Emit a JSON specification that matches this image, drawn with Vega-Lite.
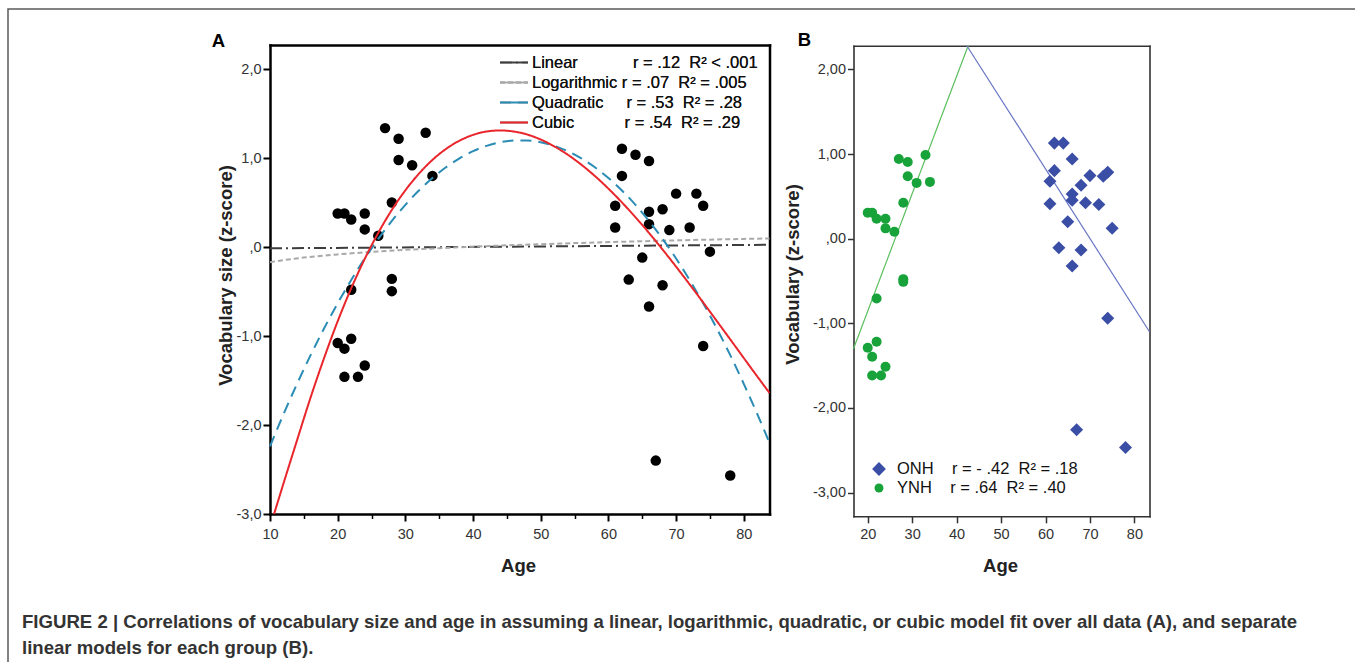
{
  "$schema": "https://vega.github.io/schema/vega-lite/v6.json",
  "width": 1347,
  "height": 653,
  "autosize": {"type": "none"},
  "padding": {"left": 8, "top": 9, "right": 0, "bottom": 0},
  "background": "#ffffff",
  "view": {"fill": "#ffffff", "stroke": "#5a5a5a", "strokeWidth": 1.5, "strokeDash": [1347, 2000, 653]},
  "title": {
    "text": ["FIGURE 2 | Correlations of vocabulary size and age in assuming a linear, logarithmic, quadratic, or cubic model fit over all data (A), and separate", "linear models for each group (B)."],
    "orient": "bottom", "anchor": "start", "frame": "group", "offset": -49, "dx": 14,
    "baseline": "top", "lineHeight": 26, "font": "Liberation Sans", "fontSize": 18.6, "fontWeight": "bold", "color": "#333333"
  },
  "config": {
    "font": "Liberation Sans",
    "axis": {"grid": false, "labelFlush": false, "labelOverlap": false, "minExtent": 0, "maxExtent": 500, "titlePadding": 0, "labelFont": "Liberation Sans", "titleFont": "Liberation Sans", "labelBound": false},
    "legend": {"padding": 0, "labelFont": "Liberation Sans"}
  },
  "datasets": {
    "pointsA": [
      {"group": "YNH", "age": 27, "score": 1.336},
      {"group": "YNH", "age": 29, "score": 1.216},
      {"group": "YNH", "age": 33, "score": 1.284},
      {"group": "YNH", "age": 29, "score": 0.978},
      {"group": "YNH", "age": 31, "score": 0.918},
      {"group": "YNH", "age": 34, "score": 0.799},
      {"group": "YNH", "age": 28, "score": 0.5},
      {"group": "YNH", "age": 20, "score": 0.377},
      {"group": "YNH", "age": 21, "score": 0.377},
      {"group": "YNH", "age": 22, "score": 0.31},
      {"group": "YNH", "age": 24, "score": 0.377},
      {"group": "YNH", "age": 24, "score": 0.198},
      {"group": "YNH", "age": 26, "score": 0.127},
      {"group": "YNH", "age": 28, "score": -0.358},
      {"group": "YNH", "age": 28, "score": -0.496},
      {"group": "YNH", "age": 22, "score": -0.481},
      {"group": "YNH", "age": 20, "score": -1.078},
      {"group": "YNH", "age": 21, "score": -1.142},
      {"group": "YNH", "age": 22, "score": -1.03},
      {"group": "YNH", "age": 21, "score": -1.459},
      {"group": "YNH", "age": 23, "score": -1.459},
      {"group": "YNH", "age": 24, "score": -1.332},
      {"group": "ONH", "age": 62, "score": 1.104},
      {"group": "ONH", "age": 64, "score": 1.037},
      {"group": "ONH", "age": 66, "score": 0.966},
      {"group": "ONH", "age": 62, "score": 0.799},
      {"group": "ONH", "age": 61, "score": 0.463},
      {"group": "ONH", "age": 61, "score": 0.22},
      {"group": "ONH", "age": 66, "score": 0.396},
      {"group": "ONH", "age": 66, "score": 0.257},
      {"group": "ONH", "age": 68, "score": 0.425},
      {"group": "ONH", "age": 69, "score": 0.19},
      {"group": "ONH", "age": 70, "score": 0.6},
      {"group": "ONH", "age": 73, "score": 0.6},
      {"group": "ONH", "age": 72, "score": 0.22},
      {"group": "ONH", "age": 74, "score": 0.463},
      {"group": "ONH", "age": 75, "score": -0.052},
      {"group": "ONH", "age": 65, "score": -0.119},
      {"group": "ONH", "age": 63, "score": -0.366},
      {"group": "ONH", "age": 68, "score": -0.429},
      {"group": "ONH", "age": 66, "score": -0.668},
      {"group": "ONH", "age": 74, "score": -1.112},
      {"group": "ONH", "age": 67, "score": -2.4},
      {"group": "ONH", "age": 78, "score": -2.567}
    ],
    "curvesA": [
      {"model": "Linear", "age": 10, "score": -0.015},
      {"model": "Linear", "age": 83.8, "score": 0.025},
      {"model": "Logarithmic", "age": 10, "score": -0.17},
      {"model": "Logarithmic", "age": 12, "score": -0.147},
      {"model": "Logarithmic", "age": 15, "score": -0.119},
      {"model": "Logarithmic", "age": 20, "score": -0.083},
      {"model": "Logarithmic", "age": 25, "score": -0.055},
      {"model": "Logarithmic", "age": 30, "score": -0.032},
      {"model": "Logarithmic", "age": 35, "score": -0.013},
      {"model": "Logarithmic", "age": 40, "score": 0.004},
      {"model": "Logarithmic", "age": 45, "score": 0.019},
      {"model": "Logarithmic", "age": 50, "score": 0.032},
      {"model": "Logarithmic", "age": 55, "score": 0.044},
      {"model": "Logarithmic", "age": 60, "score": 0.055},
      {"model": "Logarithmic", "age": 65, "score": 0.065},
      {"model": "Logarithmic", "age": 70, "score": 0.075},
      {"model": "Logarithmic", "age": 75, "score": 0.083},
      {"model": "Logarithmic", "age": 80, "score": 0.091},
      {"model": "Logarithmic", "age": 83.8, "score": 0.097},
      {"model": "Quadratic", "age": 10, "score": -2.24},
      {"model": "Quadratic", "age": 12, "score": -1.878},
      {"model": "Quadratic", "age": 14, "score": -1.537},
      {"model": "Quadratic", "age": 16, "score": -1.215},
      {"model": "Quadratic", "age": 18, "score": -0.913},
      {"model": "Quadratic", "age": 20, "score": -0.632},
      {"model": "Quadratic", "age": 22, "score": -0.371},
      {"model": "Quadratic", "age": 24, "score": -0.129},
      {"model": "Quadratic", "age": 26, "score": 0.092},
      {"model": "Quadratic", "age": 28, "score": 0.293},
      {"model": "Quadratic", "age": 30, "score": 0.474},
      {"model": "Quadratic", "age": 32, "score": 0.635},
      {"model": "Quadratic", "age": 34, "score": 0.775},
      {"model": "Quadratic", "age": 36, "score": 0.896},
      {"model": "Quadratic", "age": 38, "score": 0.996},
      {"model": "Quadratic", "age": 40, "score": 1.077},
      {"model": "Quadratic", "age": 42, "score": 1.137},
      {"model": "Quadratic", "age": 44, "score": 1.177},
      {"model": "Quadratic", "age": 46, "score": 1.197},
      {"model": "Quadratic", "age": 48, "score": 1.197},
      {"model": "Quadratic", "age": 50, "score": 1.177},
      {"model": "Quadratic", "age": 52, "score": 1.137},
      {"model": "Quadratic", "age": 54, "score": 1.077},
      {"model": "Quadratic", "age": 56, "score": 0.996},
      {"model": "Quadratic", "age": 58, "score": 0.896},
      {"model": "Quadratic", "age": 60, "score": 0.775},
      {"model": "Quadratic", "age": 62, "score": 0.635},
      {"model": "Quadratic", "age": 64, "score": 0.474},
      {"model": "Quadratic", "age": 66, "score": 0.293},
      {"model": "Quadratic", "age": 68, "score": 0.092},
      {"model": "Quadratic", "age": 70, "score": -0.129},
      {"model": "Quadratic", "age": 72, "score": -0.371},
      {"model": "Quadratic", "age": 74, "score": -0.632},
      {"model": "Quadratic", "age": 76, "score": -0.913},
      {"model": "Quadratic", "age": 78, "score": -1.215},
      {"model": "Quadratic", "age": 80, "score": -1.537},
      {"model": "Quadratic", "age": 82, "score": -1.878},
      {"model": "Quadratic", "age": 83.8, "score": -2.2},
      {"model": "Cubic", "age": 10.6, "score": -3.0},
      {"model": "Cubic", "age": 12, "score": -2.655},
      {"model": "Cubic", "age": 14, "score": -2.17},
      {"model": "Cubic", "age": 16, "score": -1.69},
      {"model": "Cubic", "age": 18, "score": -1.246},
      {"model": "Cubic", "age": 20, "score": -0.834},
      {"model": "Cubic", "age": 22, "score": -0.464},
      {"model": "Cubic", "age": 24, "score": -0.133},
      {"model": "Cubic", "age": 26, "score": 0.16},
      {"model": "Cubic", "age": 28, "score": 0.417},
      {"model": "Cubic", "age": 30, "score": 0.637},
      {"model": "Cubic", "age": 32, "score": 0.824},
      {"model": "Cubic", "age": 34, "score": 0.979},
      {"model": "Cubic", "age": 36, "score": 1.102},
      {"model": "Cubic", "age": 38, "score": 1.195},
      {"model": "Cubic", "age": 40, "score": 1.26},
      {"model": "Cubic", "age": 42, "score": 1.298},
      {"model": "Cubic", "age": 44, "score": 1.31},
      {"model": "Cubic", "age": 46, "score": 1.298},
      {"model": "Cubic", "age": 48, "score": 1.264},
      {"model": "Cubic", "age": 50, "score": 1.208},
      {"model": "Cubic", "age": 52, "score": 1.131},
      {"model": "Cubic", "age": 54, "score": 1.037},
      {"model": "Cubic", "age": 56, "score": 0.925},
      {"model": "Cubic", "age": 58, "score": 0.798},
      {"model": "Cubic", "age": 60, "score": 0.656},
      {"model": "Cubic", "age": 62, "score": 0.501},
      {"model": "Cubic", "age": 64, "score": 0.334},
      {"model": "Cubic", "age": 66, "score": 0.158},
      {"model": "Cubic", "age": 68, "score": -0.028},
      {"model": "Cubic", "age": 70, "score": -0.221},
      {"model": "Cubic", "age": 72, "score": -0.42},
      {"model": "Cubic", "age": 74, "score": -0.623},
      {"model": "Cubic", "age": 76, "score": -0.83},
      {"model": "Cubic", "age": 78, "score": -1.038},
      {"model": "Cubic", "age": 80, "score": -1.247},
      {"model": "Cubic", "age": 82, "score": -1.455},
      {"model": "Cubic", "age": 83.8, "score": -1.64}
    ],
    "pointsB": [
      {"group": "ONH", "age": 62, "score": 1.129},
      {"group": "ONH", "age": 64, "score": 1.129},
      {"group": "ONH", "age": 66, "score": 0.941},
      {"group": "ONH", "age": 62, "score": 0.804},
      {"group": "ONH", "age": 61, "score": 0.678},
      {"group": "ONH", "age": 68, "score": 0.631},
      {"group": "ONH", "age": 70, "score": 0.745},
      {"group": "ONH", "age": 73, "score": 0.737},
      {"group": "ONH", "age": 74, "score": 0.784},
      {"group": "ONH", "age": 66, "score": 0.529},
      {"group": "ONH", "age": 66, "score": 0.455},
      {"group": "ONH", "age": 61, "score": 0.412},
      {"group": "ONH", "age": 69, "score": 0.424},
      {"group": "ONH", "age": 72, "score": 0.404},
      {"group": "ONH", "age": 65, "score": 0.2},
      {"group": "ONH", "age": 75, "score": 0.122},
      {"group": "ONH", "age": 63, "score": -0.106},
      {"group": "ONH", "age": 68, "score": -0.133},
      {"group": "ONH", "age": 66, "score": -0.322},
      {"group": "ONH", "age": 74, "score": -0.94},
      {"group": "ONH", "age": 67, "score": -2.257},
      {"group": "ONH", "age": 78, "score": -2.466},
      {"group": "YNH", "age": 20, "score": 0.306},
      {"group": "YNH", "age": 21, "score": 0.306},
      {"group": "YNH", "age": 22, "score": 0.235},
      {"group": "YNH", "age": 24, "score": 0.235},
      {"group": "YNH", "age": 24, "score": 0.122},
      {"group": "YNH", "age": 26, "score": 0.082},
      {"group": "YNH", "age": 28, "score": 0.424},
      {"group": "YNH", "age": 29, "score": 0.737},
      {"group": "YNH", "age": 27, "score": 0.941},
      {"group": "YNH", "age": 29, "score": 0.906},
      {"group": "YNH", "age": 31, "score": 0.659},
      {"group": "YNH", "age": 33, "score": 0.988},
      {"group": "YNH", "age": 34, "score": 0.671},
      {"group": "YNH", "age": 28, "score": -0.478},
      {"group": "YNH", "age": 28, "score": -0.51},
      {"group": "YNH", "age": 22, "score": -0.706},
      {"group": "YNH", "age": 20, "score": -1.289},
      {"group": "YNH", "age": 22, "score": -1.217},
      {"group": "YNH", "age": 21, "score": -1.395},
      {"group": "YNH", "age": 21, "score": -1.617},
      {"group": "YNH", "age": 23, "score": -1.617},
      {"group": "YNH", "age": 24, "score": -1.514}
    ],
    "linesB": [
      {"group": "YNH", "age": 16.8, "score": -1.3},
      {"group": "YNH", "age": 42.6, "score": 2.28},
      {"group": "ONH", "age": 42.3, "score": 2.28},
      {"group": "ONH", "age": 83.4, "score": -1.1}
    ]
  },
  "layer": [
    {
      "layer": [
        {
          "data": {"name": "pointsA"},
          "transform": [{"filter": "datum.group == 'YNH'"}],
          "mark": {"type": "point", "filled": true, "shape": "circle", "size": 110, "color": "#000000", "opacity": 1},
          "encoding": {
            "x": {"field": "age", "type": "quantitative",
              "scale": {"domain": [10, 83.8], "range": [262, 761.5], "nice": false, "zero": false},
              "axis": {"orient": "bottom", "offset": -148, "values": [10, 20, 30, 40, 50, 60, 70, 80],
                "domain": true, "domainColor": "#000000", "domainWidth": 2.5, "domainCap": "square",
                "ticks": true, "tickColor": "#000000", "tickWidth": 2, "tickSize": 7,
                "labels": true, "labelFontSize": 14.5, "labelColor": "#333333", "labelPadding": 6,
                "title": "Age", "titleX": 510, "titleY": 51, "titleAngle": 0, "titleBaseline": "middle", "titleAlign": "center",
                "titleFontSize": 18.5, "titleFontWeight": "bold", "titleColor": "#222222"}},
            "y": {"field": "score", "type": "quantitative",
              "scale": {"domain": [-3, 2.27], "range": [505, 36], "nice": false, "zero": false},
              "axis": {"orient": "left", "offset": -262, "values": [-3, -2, -1, 0, 1, 2],
                "domain": true, "domainColor": "#000000", "domainWidth": 2.5, "domainCap": "square",
                "ticks": true, "tickColor": "#000000", "tickWidth": 2, "tickSize": 7,
                "labels": true, "labelFontSize": 14.5, "labelColor": "#333333", "labelPadding": 2,
                "labelExpr": "datum.value == 0 ? ',0' : (datum.value < 0 ? '-' : '') + abs(datum.value) + ',0'",
                "title": "Vocabulary size (z-score)", "titleX": -45, "titleY": 266, "titleAngle": -90, "titleBaseline": "middle", "titleAlign": "center",
                "titleFontSize": 18.5, "titleFontWeight": "bold", "titleColor": "#222222"}}
          }
        },
        {
          "data": {"name": "pointsA"},
          "transform": [{"filter": "datum.group == 'ONH'"}],
          "mark": {"type": "point", "filled": true, "shape": "circle", "size": 110, "color": "#000000", "opacity": 1},
          "encoding": {
            "x": {"field": "age", "type": "quantitative",
              "scale": {"domain": [10, 83.8], "range": [262, 761.5], "nice": false, "zero": false},
              "axis": {"orient": "bottom", "offset": -148, "values": [15, 25, 35, 45, 55, 65, 75],
                "domain": false, "ticks": true, "tickColor": "#000000", "tickWidth": 1.5, "tickSize": 4.5,
                "labels": false, "title": null}},
            "y": {"field": "score", "type": "quantitative",
              "scale": {"domain": [-3, 2.27], "range": [505, 36], "nice": false, "zero": false},
              "axis": null}
          }
        },
        {
          "data": {"name": "curvesA"},
          "mark": {"type": "line", "strokeWidth": 2, "interpolate": "monotone"},
          "encoding": {
            "x": {"field": "age", "type": "quantitative",
              "scale": {"domain": [10, 83.8], "range": [262, 761.5], "nice": false, "zero": false},
              "axis": {"orient": "top", "offset": -36, "domain": true, "domainColor": "#000000", "domainWidth": 2.5, "domainCap": "square",
                "ticks": false, "labels": false,
                "title": "A", "titleX": 210, "titleY": -5, "titleAngle": 0, "titleBaseline": "middle", "titleAlign": "center",
                "titleFontSize": 18.5, "titleFontWeight": "bold", "titleColor": "#000000"}},
            "y": {"field": "score", "type": "quantitative",
              "scale": {"domain": [-3, 2.27], "range": [505, 36], "nice": false, "zero": false},
              "axis": {"orient": "right", "offset": -585.5, "domain": true, "domainColor": "#000000", "domainWidth": 2.5, "domainCap": "square",
                "ticks": false, "labels": false, "title": null}},
            "color": {"field": "model", "type": "nominal",
              "scale": {"domain": ["Linear", "Logarithmic", "Quadratic", "Cubic"], "range": ["#3d3d3d", "#a9a9a9", "#2a8cb4", "#e8262b"]},
              "legend": {"title": null, "orient": "none", "legendX": 497.75, "legendY": 45.25, "padding": 0,
                "symbolType": "M-2.8,0H2.8", "symbolSize": 100, "symbolStrokeWidth": 2,
                "labelFontSize": 16.5, "labelColor": "#111111", "labelOffset": 9.75, "rowPadding": 3, "labelLimit": 600,
                "labelExpr": "datum.label == 'Linear' ? 'Linear\u00a0\u00a0\u00a0\u00a0\u00a0\u00a0\u00a0\u00a0\u00a0\u00a0\u00a0\u00a0r = .12\u00a0\u00a0R² < .001' : datum.label == 'Logarithmic' ? 'Logarithmic\u00a0r = .07\u00a0\u00a0R² = .005' : datum.label == 'Quadratic' ? 'Quadratic\u00a0\u00a0\u00a0\u00a0\u00a0r = .53\u00a0\u00a0R² = .28' : 'Cubic\u00a0\u00a0\u00a0\u00a0\u00a0\u00a0\u00a0\u00a0\u00a0\u00a0\u00a0r = .54\u00a0\u00a0R² = .29'"}},
            "strokeDash": {"field": "model", "type": "nominal",
              "scale": {"domain": ["Linear", "Logarithmic", "Quadratic", "Cubic"], "range": [[12, 4, 2, 4], [5, 3], [11, 7], [1, 0]]},
              "legend": {"title": null, "orient": "none", "legendX": 497.75, "legendY": 45.25, "padding": 0,
                "symbolType": "M-2.8,0H2.8", "symbolSize": 100, "symbolStrokeWidth": 2,
                "labelFontSize": 16.5, "labelColor": "#111111", "labelOffset": 9.75, "rowPadding": 3, "labelLimit": 600,
                "labelExpr": "datum.label == 'Linear' ? 'Linear\u00a0\u00a0\u00a0\u00a0\u00a0\u00a0\u00a0\u00a0\u00a0\u00a0\u00a0\u00a0r = .12\u00a0\u00a0R² < .001' : datum.label == 'Logarithmic' ? 'Logarithmic\u00a0r = .07\u00a0\u00a0R² = .005' : datum.label == 'Quadratic' ? 'Quadratic\u00a0\u00a0\u00a0\u00a0\u00a0r = .53\u00a0\u00a0R² = .28' : 'Cubic\u00a0\u00a0\u00a0\u00a0\u00a0\u00a0\u00a0\u00a0\u00a0\u00a0\u00a0r = .54\u00a0\u00a0R² = .29'"}}
          }
        }
      ],
      "resolve": {"axis": {"x": "independent", "y": "independent"}}
    },
    {
      "layer": [
        {
          "data": {"name": "linesB"},
          "mark": {"type": "line", "strokeWidth": 1.2},
          "encoding": {
            "x": {"field": "age", "type": "quantitative",
              "scale": {"domain": [16.8, 83.4], "range": [845.5, 1141.5], "nice": false, "zero": false},
              "axis": null},
            "y": {"field": "score", "type": "quantitative",
              "scale": {"domain": [-3.28, 2.28], "range": [507.3, 36.7], "nice": false, "zero": false},
              "axis": null},
            "stroke": {"field": "group", "type": "nominal",
              "scale": {"domain": ["ONH", "YNH"], "range": ["#6876c4", "#5bbf5e"]}, "legend": null}
          }
        },
        {
          "data": {"name": "pointsB"},
          "transform": [{"filter": "datum.group == 'ONH'"}],
          "mark": {"type": "point", "filled": true, "shape": "diamond", "size": 170, "opacity": 1},
          "encoding": {
            "x": {"field": "age", "type": "quantitative",
              "scale": {"domain": [16.8, 83.4], "range": [845.5, 1141.5], "nice": false, "zero": false},
              "axis": {"orient": "bottom", "offset": -145.7, "values": [20, 30, 40, 50, 60, 70, 80],
                "domain": true, "domainColor": "#333333", "domainWidth": 1.6, "domainCap": "square",
                "ticks": true, "tickColor": "#333333", "tickWidth": 1.5, "tickSize": 6.5,
                "labels": true, "labelFontSize": 14.5, "labelColor": "#333333", "labelPadding": 5,
                "title": "Age", "titleX": 992, "titleY": 48.7, "titleAngle": 0, "titleBaseline": "middle", "titleAlign": "center",
                "titleFontSize": 18.5, "titleFontWeight": "bold", "titleColor": "#222222"}},
            "y": {"field": "score", "type": "quantitative",
              "scale": {"domain": [-3.28, 2.28], "range": [507.3, 36.7], "nice": false, "zero": false},
              "axis": {"orient": "left", "offset": -845.5, "values": [-3, -2, -1, 0, 1, 2],
                "domain": true, "domainColor": "#333333", "domainWidth": 1.6, "domainCap": "square",
                "ticks": true, "tickColor": "#333333", "tickWidth": 1.5, "tickSize": 6,
                "labels": true, "labelFontSize": 14.5, "labelColor": "#333333", "labelPadding": 2,
                "labelExpr": "datum.value == 0 ? ',00' : (datum.value < 0 ? '-' : '') + abs(datum.value) + ',00'",
                "title": "Vocabulary (z-score)", "titleX": -61.5, "titleY": 265, "titleAngle": -90, "titleBaseline": "middle", "titleAlign": "center",
                "titleFontSize": 18.5, "titleFontWeight": "bold", "titleColor": "#222222"}},
            "color": {"field": "group", "type": "nominal",
              "scale": {"domain": ["ONH"], "range": ["#3b4ea6"]},
              "legend": {"title": null, "orient": "none", "legendX": 862.75, "legendY": 451.75, "padding": 0,
                "symbolType": "diamond", "symbolSize": 190, "symbolStrokeWidth": 0,
                "labelFontSize": 16.5, "labelColor": "#111111", "labelOffset": 9.75, "labelLimit": 600,
                "labelExpr": "'ONH\u00a0\u00a0\u00a0\u00a0r = - .42\u00a0\u00a0R² = .18'"}}
          }
        },
        {
          "data": {"name": "pointsB"},
          "transform": [{"filter": "datum.group == 'YNH'"}],
          "mark": {"type": "point", "filled": true, "shape": "circle", "size": 100, "opacity": 1},
          "encoding": {
            "x": {"field": "age", "type": "quantitative",
              "scale": {"domain": [16.8, 83.4], "range": [845.5, 1141.5], "nice": false, "zero": false},
              "axis": {"orient": "top", "offset": -36.7, "domain": true, "domainColor": "#333333", "domainWidth": 1.6, "domainCap": "square",
                "ticks": false, "labels": false,
                "title": "B", "titleX": 796, "titleY": -6.7, "titleAngle": 0, "titleBaseline": "middle", "titleAlign": "center",
                "titleFontSize": 18.5, "titleFontWeight": "bold", "titleColor": "#000000"}},
            "y": {"field": "score", "type": "quantitative",
              "scale": {"domain": [-3.28, 2.28], "range": [507.3, 36.7], "nice": false, "zero": false},
              "axis": {"orient": "right", "offset": -205.5, "domain": true, "domainColor": "#333333", "domainWidth": 1.6, "domainCap": "square",
                "ticks": false, "labels": false, "title": null}},
            "fill": {"field": "group", "type": "nominal",
              "scale": {"domain": ["YNH"], "range": ["#17a23a"]},
              "legend": {"title": null, "orient": "none", "legendX": 862.75, "legendY": 470.75, "padding": 0,
                "symbolType": "circle", "symbolSize": 80, "symbolStrokeWidth": 0,
                "labelFontSize": 16.5, "labelColor": "#111111", "labelOffset": 9.75, "labelLimit": 600,
                "labelExpr": "'YNH\u00a0\u00a0\u00a0\u00a0r = .64\u00a0\u00a0R² = .40'"}}
          }
        }
      ],
      "resolve": {"axis": {"x": "independent", "y": "independent"}}
    }
  ],
  "resolve": {"scale": {"x": "independent", "y": "independent", "color": "independent"}}
}
